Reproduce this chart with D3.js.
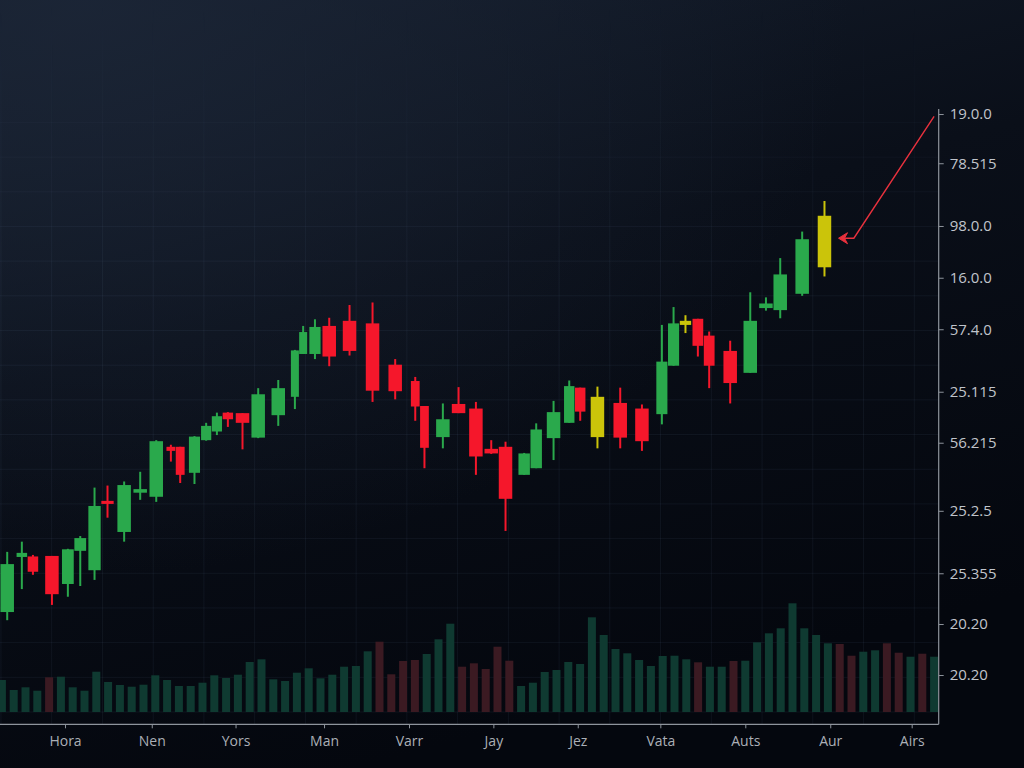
<!DOCTYPE html>
<html>
<head>
<meta charset="utf-8">
<script src="https://cdn.jsdelivr.net/npm/d3@7/dist/d3.min.js"></script>
<style>
  html, body { margin: 0; padding: 0; background: #070b13; overflow: hidden; }
  svg { display: block; }
</style>
</head>
<body>
<svg id="chart" width="1024" height="768"></svg>
<script>
// ---------------- DATA ----------------
// candle time positions (trading-day units)
const candleDays = [0.95, 2.19, 3.13, 4.74, 6.09, 7.14, 8.35, 9.45, 10.86, 12.22,
  13.58, 14.82, 15.61, 16.82, 17.81, 18.72, 19.65, 20.89, 22.22, 23.92,
  25.33, 26.03, 27.03, 28.24, 29.96, 31.91, 33.83, 35.53, 36.31, 37.87,
  39.2, 40.67, 41.97, 43.18, 44.76, 45.78, 47.25, 48.58, 49.51, 50.97,
  52.9, 54.74, 56.43, 57.42, 58.43, 59.48, 60.44, 62.22, 63.92, 65.25,
  66.46, 68.32, 70.21];
const opens  = [19.6, 30.4, 30.5, 30.6, 25.1, 31.6, 27.8, 41.4, 35.3, 43.0,
  42.2, 52.0, 52.0, 46.9, 53.3, 55.0, 58.7, 58.6, 53.8, 58.2,
  61.8, 70.2, 70.2, 75.7, 76.7, 76.2, 68.1, 64.9, 60.0, 53.9,
  60.4, 59.5, 51.6, 52.0, 46.5, 47.8, 53.7, 56.7, 63.6, 53.9,
  60.6, 59.5, 58.4, 67.9, 75.9, 77.1, 73.8, 70.8, 66.5, 79.2,
  78.8, 82.0, 87.2];
const closes = [29.0, 31.2, 27.5, 23.1, 31.9, 34.1, 40.4, 40.8, 44.5, 43.7,
  53.1, 51.2, 46.5, 54.0, 56.1, 58.0, 57.4, 56.7, 62.3, 63.5,
  70.9, 74.5, 75.5, 69.7, 70.8, 63.0, 62.9, 59.9, 51.8, 57.4,
  58.6, 50.1, 50.7, 41.8, 50.7, 55.4, 58.8, 63.9, 58.9, 61.8,
  53.8, 53.1, 68.7, 76.2, 76.7, 71.8, 67.9, 64.5, 76.7, 80.1,
  85.8, 92.7, 97.3];
const highs  = [31.4, 33.4, 30.8, 30.6, 32.0, 34.5, 44.0, 44.4, 45.2, 47.1,
  53.3, 52.4, 52.0, 54.1, 56.7, 58.7, 58.8, 58.6, 63.5, 65.1,
  71.0, 75.7, 77.0, 77.3, 79.8, 80.3, 69.2, 65.7, 60.0, 60.5,
  63.7, 60.8, 53.3, 53.0, 50.8, 56.6, 61.0, 65.0, 63.6, 63.8,
  63.6, 60.3, 75.9, 79.4, 77.8, 77.1, 74.6, 72.8, 82.3, 81.3,
  89.0, 94.2, 100.2];
const lows   = [18.0, 24.1, 26.9, 21.0, 22.6, 24.7, 25.9, 38.1, 33.4, 41.6,
  41.2, 49.1, 44.9, 44.7, 53.2, 54.3, 55.9, 51.5, 53.7, 56.1,
  59.4, 70.2, 69.2, 67.8, 69.9, 60.8, 61.3, 57.1, 47.8, 51.7,
  58.6, 46.5, 50.6, 35.5, 46.5, 47.8, 49.4, 56.7, 57.1, 51.7,
  51.7, 51.2, 56.4, 67.9, 74.3, 69.7, 63.5, 60.5, 66.5, 78.7,
  77.2, 81.6, 85.4];
// candles drawn in the highlight (yellow) colour
const highlighted = [39, 44, 52];

// volume per trading day (one bar per day)
const volumes = [320, 220, 247, 213, 347, 353, 247, 213, 403, 300,
  270, 253, 273, 367, 320, 260, 260, 293, 367, 340,
  373, 500, 527, 327, 310, 393, 437, 337, 373, 453,
  460, 607, 703, 377, 510, 520, 580, 727, 883, 453,
  487, 430, 653, 513, 260, 293, 400, 420, 500, 480,
  947, 770, 630, 587, 520, 460, 560, 563, 527, 497,
  453, 453, 510, 513, 697, 787, 837, 1087, 837, 770,
  687, 680, 563, 603, 617, 687, 593, 553, 583, 553];
const volumeDir = ["u","u","u","u","d","u","u","u","u","u",
  "u","u","u","u","u","u","u","u","u","u",
  "u","u","u","u","u","u","u","u","u","u",
  "u","u","d","d","d","d","u","u","u","d",
  "d","d","d","d","u","u","u","u","u","u",
  "u","u","u","u","u","u","u","u","u","d",
  "u","u","d","u","u","u","u","u","u","u",
  "u","d","d","u","u","d","d","u","d","u"];

// axis ticks
const priceTicks = [117.25, 107.6, 95.3, 85.15, 75.05, 62.8, 52.8, 39.45, 27.2, 17.25, 7.25];
const priceTickLabels = ["19.0.0", "78.515", "98.0.0", "16.0.0", "57.4.0", "25.115", "56.215", "25.2.5", "25.355", "20.20", "20.20"];
const timeTicks = [5.85, 13.2, 20.3, 27.8, 35.0, 42.15, 49.3, 56.3, 63.5, 70.7, 77.6];
const timeTickLabels = ["Hora", "Nen", "Yors", "Man", "Varr", "Jay", "Jez", "Vata", "Auts", "Aur", "Airs"];

// annotation arrow: from (day, price) to (day, price)
const arrowFrom = { day: 79.5, price: 116.8 };
const arrowBend = { day: 72.7, price: 92.9 };
const arrowTip  = { day: 71.4, price: 92.9 };

// ---------------- LAYOUT ----------------
const W = 1024, H = 768;
const axisX = 938.7, axisY = 724.3;
const svg = d3.select("#chart");

const x = d3.scaleLinear().domain([0, 80]).range([-4, 940]);
const y = d3.scaleLinear().domain([0, 120]).range([712, 100]);
const v = d3.scaleLinear().domain([0, 1200]).range([712, 592]);

const COL = {
  up: "#2aa94c", down: "#f5172b", hi: "#cbc40a",
  volUp: "#0f3a31", volDown: "#3b1a22",
  grid: "rgba(130,150,185,0.08)",
  axis: "#8e949c", tickText: "#c0c4cb", timeText: "#abafb6", arrow: "#e8313d"
};

// background
const defs = svg.append("defs");
const lg = defs.append("linearGradient").attr("id", "bg").attr("x1", 0).attr("y1", 0).attr("x2", 0.35).attr("y2", 1);
lg.append("stop").attr("offset", "0%").attr("stop-color", "#151e2d");
lg.append("stop").attr("offset", "45%").attr("stop-color", "#0a0f19");
lg.append("stop").attr("offset", "100%").attr("stop-color", "#04070e");
const rg = defs.append("radialGradient").attr("id", "glow")
  .attr("cx", 0.08).attr("cy", 0.0).attr("r", 0.75);
rg.append("stop").attr("offset", "0%").attr("stop-color", "#1c2637").attr("stop-opacity", 0.85);
rg.append("stop").attr("offset", "100%").attr("stop-color", "#1c2637").attr("stop-opacity", 0);
svg.append("rect").attr("width", W).attr("height", H).attr("fill", "url(#bg)");
svg.append("rect").attr("width", W).attr("height", H).attr("fill", "url(#glow)");

// grid
const gridFade = defs.append("linearGradient").attr("id", "gridfade").attr("x1", 0).attr("y1", 0).attr("x2", 0).attr("y2", 1);
gridFade.append("stop").attr("offset", "0%").attr("stop-color", "white").attr("stop-opacity", 0);
gridFade.append("stop").attr("offset", "35%").attr("stop-color", "white").attr("stop-opacity", 1);
gridFade.append("stop").attr("offset", "100%").attr("stop-color", "white").attr("stop-opacity", 1);
const mask = defs.append("mask").attr("id", "gmask");
mask.append("rect").attr("x", 0).attr("y", 0).attr("width", W).attr("height", H).attr("fill", "url(#gridfade)");

const grid = svg.append("g").attr("mask", "url(#gmask)");
const hLevels = d3.range(0, 120, 6.8);
grid.selectAll("line.h").data(hLevels).join("line")
  .attr("x1", 0).attr("x2", axisX)
  .attr("y1", d => y(d)).attr("y2", d => y(d))
  .attr("stroke", COL.grid).attr("stroke-width", 1);
const vLevels = d3.range(0.42, 80, 4.3);
grid.selectAll("line.v").data(vLevels).join("line")
  .attr("x1", d => x(d)).attr("x2", d => x(d))
  .attr("y1", 0).attr("y2", axisY)
  .attr("stroke", COL.grid).attr("stroke-width", 1);

// volume bars
const volIdx = d3.range(volumes.length);
const vb = d3.scaleBand().domain(volIdx).range([x(0), x(80)]).paddingInner(0.32).paddingOuter(0.16);
svg.append("g").selectAll("rect").data(volIdx).join("rect")
  .attr("x", i => vb(i))
  .attr("width", vb.bandwidth())
  .attr("y", i => v(volumes[i]))
  .attr("height", i => v(0) - v(volumes[i]))
  .attr("fill", i => volumeDir[i] === "u" ? COL.volUp : COL.volDown);

// candles
const candles = candleDays.map((d, i) => ({
  i, day: d, o: opens[i], c: closes[i], h: highs[i], l: lows[i],
  col: highlighted.includes(i) ? COL.hi : (closes[i] >= opens[i] ? COL.up : COL.down)
}));
candles.forEach((cd, k) => {
  const px = x(cd.day);
  const prev = k > 0 ? px - x(candles[k - 1].day) : 20;
  const next = k < candles.length - 1 ? x(candles[k + 1].day) - px : 20;
  cd.w = Math.max(8, Math.min(13.5, Math.min(prev, next) * 0.95));
});
const cg = svg.append("g");
cg.selectAll("line").data(candles).join("line")
  .attr("x1", d => x(d.day)).attr("x2", d => x(d.day))
  .attr("y1", d => y(d.h)).attr("y2", d => y(d.l))
  .attr("stroke", d => d.col).attr("stroke-width", 2);
cg.selectAll("rect").data(candles).join("rect")
  .attr("x", d => x(d.day) - d.w / 2)
  .attr("width", d => d.w)
  .attr("y", d => y(Math.max(d.o, d.c)))
  .attr("height", d => Math.max(2.5, Math.abs(y(d.o) - y(d.c))))
  .attr("fill", d => d.col);

// right axis
const ra = svg.append("g").attr("transform", `translate(${axisX},0)`)
  .call(d3.axisRight(y).tickValues(priceTicks)
    .tickFormat((d, i) => priceTickLabels[i]).tickSize(5).tickPadding(6));
ra.select(".domain").remove();
ra.selectAll(".tick line").attr("stroke", COL.axis);
ra.selectAll(".tick text").attr("fill", COL.tickText)
  .style("font-family", "'Open Sans', sans-serif").style("font-size", "15px");
svg.append("line").attr("x1", axisX).attr("x2", axisX)
  .attr("y1", y(priceTicks[0]) - 5).attr("y2", axisY)
  .attr("stroke", COL.axis).attr("stroke-width", 1.2);

// bottom axis
const ba = svg.append("g").attr("transform", `translate(0,${axisY})`)
  .call(d3.axisBottom(x).tickValues(timeTicks)
    .tickFormat((d, i) => timeTickLabels[i]).tickSize(4).tickPadding(8));
ba.select(".domain").remove();
ba.selectAll(".tick line").attr("stroke", COL.axis);
ba.selectAll(".tick text").attr("fill", COL.timeText)
  .style("font-family", "'Open Sans', sans-serif").style("font-size", "14px");
svg.append("line").attr("x1", 0).attr("x2", axisX)
  .attr("y1", axisY).attr("y2", axisY)
  .attr("stroke", COL.axis).attr("stroke-width", 1.2);

// annotation arrow
const ax0 = x(arrowFrom.day), ay0 = y(arrowFrom.price);
const ax1 = x(arrowBend.day), ay1 = y(arrowBend.price);
const ax2 = x(arrowTip.day), ay2 = y(arrowTip.price);
svg.append("path")
  .attr("d", `M${ax0},${ay0} L${ax1},${ay1} L${ax2 + 3},${ay2}`)
  .attr("fill", "none").attr("stroke", COL.arrow).attr("stroke-width", 1.4);
svg.append("path")
  .attr("d", `M${ax2},${ay2} L${ax2 + 9},${ay2 - 5.5} L${ax2 + 6},${ay2} L${ax2 + 9},${ay2 + 5.5} Z`)
  .attr("fill", COL.arrow).attr("stroke", COL.arrow).attr("stroke-width", 1);
</script>
</body>
</html>
